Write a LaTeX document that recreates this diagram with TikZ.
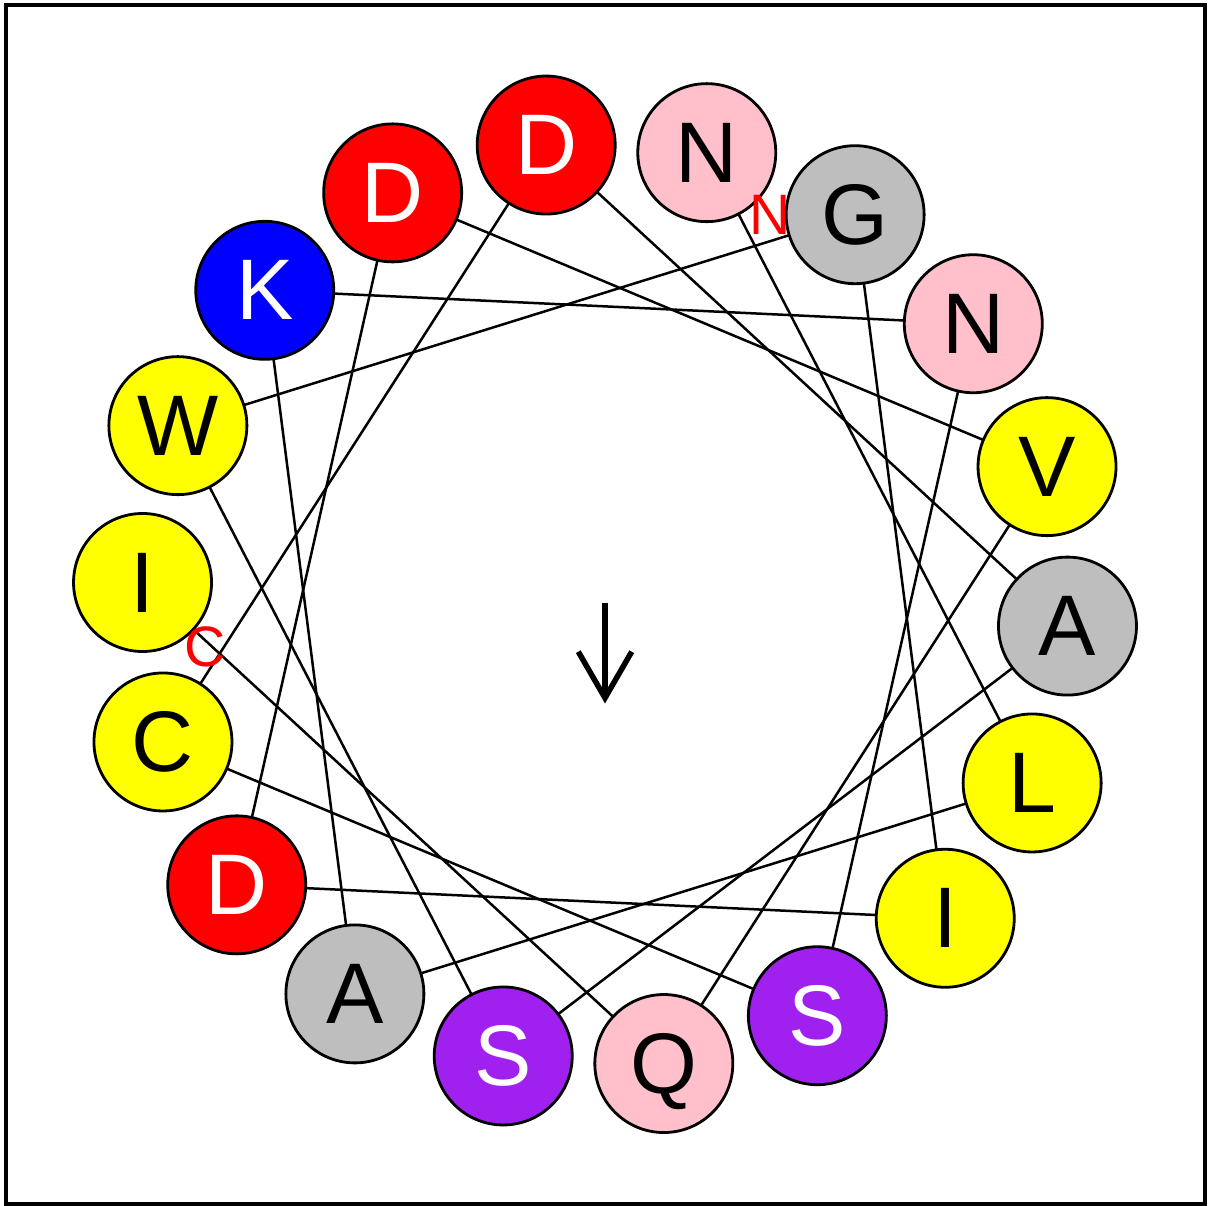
\documentclass[tikz,border=0pt]{standalone}
\usepackage{fontspec}
\setmainfont{Liberation Sans}
\usetikzlibrary{backgrounds}
\definecolor{rpink}{RGB}{255,192,203}
\definecolor{rgray}{RGB}{190,190,190}
\definecolor{rpurple}{RGB}{160,32,240}
\definecolor{ryellow}{RGB}{255,255,0}
\definecolor{rred}{RGB}{255,0,0}
\definecolor{rblue}{RGB}{0,0,255}
\newlength\capht
\newcommand\resfont{\fontsize{86}{90}\selectfont}
\newcommand\termfont{\fontsize{57}{60}\selectfont}
\begin{document}
\settoheight{\capht}{\resfont N}%
\begin{tikzpicture}[x=1pt,y=1pt,
  res/.style={circle,draw=black,line width=2.8pt,minimum size=138pt,inner sep=0pt,
    font=\resfont,text height=\capht,text depth=0pt},
  helixline/.style={draw=black,line width=2.5pt},
  term/.style={text=rred,font=\termfont,inner sep=0pt},
  frame/.style={draw=black,line width=4pt},
  moment/.style={draw=black,line width=5.5pt,line join=miter}]
\useasboundingbox (0,0) rectangle (1209,1205);
\foreach \k/\lab/\fc/\tc in {0/N/rpink/black,1/G/rgray/black,2/N/rpink/black,
  3/V/ryellow/black,4/A/rgray/black,5/L/ryellow/black,6/I/ryellow/black,
  7/S/rpurple/white,8/Q/rpink/black,9/S/rpurple/white,10/A/rgray/black,
  11/D/rred/white,12/C/ryellow/black,13/I/ryellow/black,14/W/ryellow/black,
  15/K/rblue/white,16/D/rred/white,17/D/rred/white}{
  \node[res,fill=\fc,text=\tc] (p\k) at ({605+463*cos(77.3-20*\k)},{600.7+463*sin(77.3-20*\k)}) {\lab};
}
\begin{pgfonlayer}{background}
\foreach \a/\b in {0/5,5/10,10/15,15/2,2/7,7/12,12/17,17/4,4/9,9/14,14/1,1/6,6/11,11/16,16/3,3/8,8/13}{
  \draw[helixline] (p\a.center) -- (p\b.center);
}
\end{pgfonlayer}
\node[term] (nterm) at (770.5,990) {N};
\node[term] (cterm) at (205.5,558) {C};
\draw[moment] (605,601.7) -- (605,509);
\draw[moment] (578.3,553.3) -- (605,507) -- (631.7,553.3);
\draw[frame] (5.5,1199.7) rectangle (1205,0.7);
\end{tikzpicture}
\end{document}
